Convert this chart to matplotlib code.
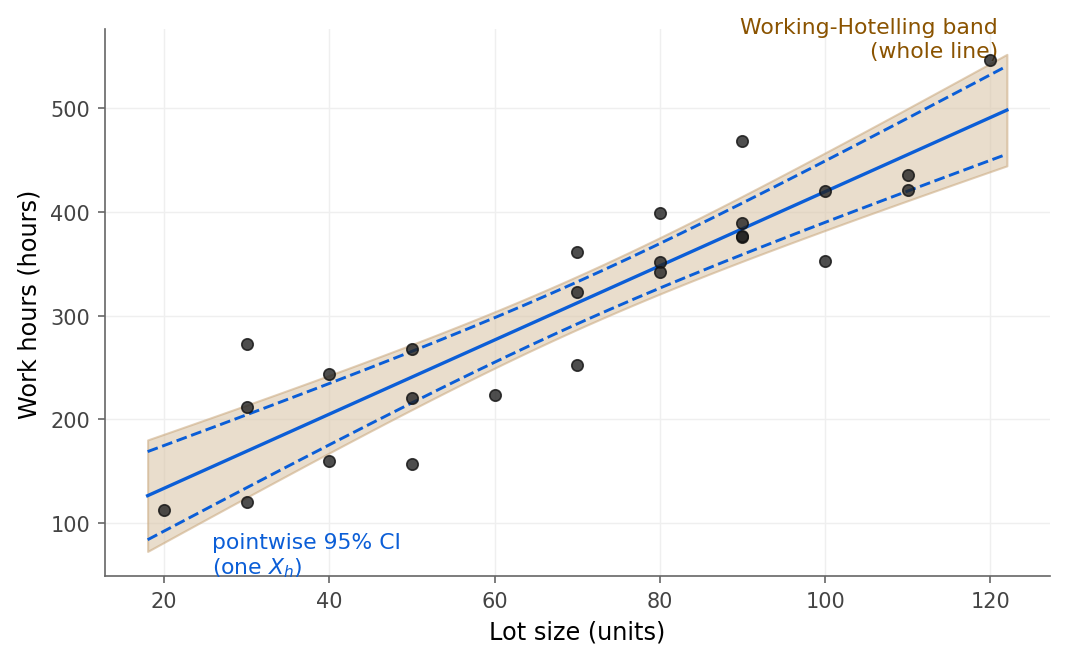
import matplotlib.pyplot as plt
import numpy as np

# Toluca company data
lot_size = [80, 30, 50, 90, 70, 60, 120, 80, 100, 50, 40, 70, 90,
            20, 110, 100, 30, 50, 90, 110, 30, 90, 40, 80, 70]
work_hours = [399, 121, 221, 376, 361, 224, 546, 352, 353, 157, 160, 252, 389,
              113, 435, 420, 212, 268, 377, 421, 273, 468, 244, 342, 323]

T_CRIT = 2.0687   # t(0.975; 23)
W_CRIT = 2.6163   # sqrt(2 F(0.95; 2, 23))

COLOR_BLUE = "#0b5ed7"
COLOR_BAND = "#d8c2a3"
COLOR_TEXT_BAND = "#8a5300"

x = np.array(lot_size, dtype=float)
y = np.array(work_hours, dtype=float)
n = len(x)

xbar = x.mean()
sxx = np.sum((x - xbar) ** 2)
b1 = np.sum((x - xbar) * (y - y.mean())) / sxx
b0 = y.mean() - b1 * xbar
mse = np.sum((y - b0 - b1 * x) ** 2) / (n - 2)

xg = np.linspace(18, 122, 200)
yhat = b0 + b1 * xg
se = np.sqrt(mse * (1.0 / n + (xg - xbar) ** 2 / sxx))

fig = plt.figure(figsize=(7.12, 4.413), dpi=150)
ax = fig.add_axes([0.098, 0.128, 0.885, 0.826])

ax.fill_between(xg, yhat - W_CRIT * se, yhat + W_CRIT * se,
                facecolor=COLOR_BAND, edgecolor="#c9a77c", alpha=0.55,
                linewidth=1.0, zorder=1)
ax.plot(xg, yhat, color=COLOR_BLUE, lw=1.6, zorder=3)
ax.plot(xg, yhat + T_CRIT * se, color=COLOR_BLUE, lw=1.4, ls="--", zorder=3)
ax.plot(xg, yhat - T_CRIT * se, color=COLOR_BLUE, lw=1.4, ls="--", zorder=3)
ax.scatter(x, y, s=30, color="#222222", edgecolor="#111111", linewidth=0.8,
           alpha=0.8, zorder=4)

ax.grid(True, color="#efefef", linewidth=0.7, zorder=0)
ax.set_axisbelow(True)
for side in ["top", "right"]:
    ax.spines[side].set_visible(False)
for side in ["left", "bottom"]:
    ax.spines[side].set_color("#666666")
ax.tick_params(colors="#666666", labelcolor="#444444", labelsize=10)

ax.set_xlabel("Lot size (units)", fontsize=11.5)
ax.set_ylabel("Work hours (hours)", fontsize=11.5)

ax.text(0.945, 1.022, "Working-Hotelling band\n(whole line)",
        transform=ax.transAxes, ha="right", va="top",
        color=COLOR_TEXT_BAND, fontsize=10.5)
ax.text(25.8, 46, "pointwise 95% CI\n(one $X_h$)", ha="left", va="bottom",
        color=COLOR_BLUE, fontsize=10.5)

fig.savefig("out.png", dpi=150)
